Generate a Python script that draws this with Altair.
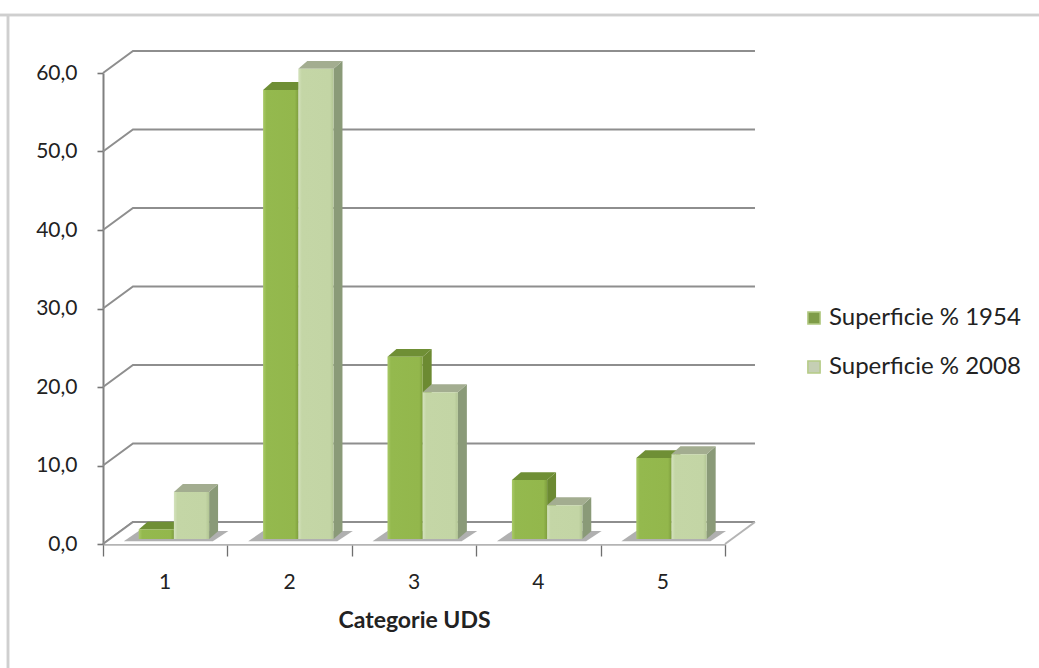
import altair as alt
import pandas as pd

# Share of surface per UDS category, in percent
categories = [1, 2, 3, 4, 5]
share_1954 = [1.2, 57.2, 23.2, 7.5, 10.3]
share_2008 = [6.0, 59.9, 18.7, 4.3, 10.8]
series_names = ["Superficie % 1954", "Superficie % 2008"]
y_ticks = [0, 10, 20, 30, 40, 50, 60]
x_title = "Categorie UDS"

# Perspective offsets, in axis units
WALL_DX, WALL_DY = 0.241, 2.8
BAR_DX, BAR_DY = 0.072, 1.0
BAR_WIDTH = 0.283
BAR_START = 0.287
BASE = 0.64

FONT = "Lato"
TEXT = "#222222"
GRID = "#8e8e8e"

x_scale = alt.Scale(domain=[0, 5], nice=False, zero=False, padding=0)
y_scale = alt.Scale(domain=[0, 60], nice=False, zero=False, padding=0)

front_rows, side_rows, top_rows, shadow_rows = [], [], [], []
for s, values in enumerate([share_1954, share_2008]):
    for c, v in zip(categories, values):
        left = c - 1 + BAR_START + s * BAR_WIDTH
        right = left + BAR_WIDTH
        top = v + BASE
        bar = f"{c}-{s}"
        front_rows.append(dict(series=series_names[s], s=s, x=left, x2=right, y=top, y2=BASE))
        side_rows += [
            dict(s=s, bar=bar, x=right, y=top, y2=BASE),
            dict(s=s, bar=bar, x=right + BAR_DX, y=top + BAR_DY, y2=BASE + BAR_DY),
        ]
        top_rows += [
            dict(s=s, bar=bar, y=top, x=left, x2=right),
            dict(s=s, bar=bar, y=top + BAR_DY, x=left + BAR_DX, x2=right + BAR_DX),
        ]
for c in categories:
    left = c - 1 + BAR_START
    right = left + 2 * BAR_WIDTH
    shadow_rows += [
        dict(cat=c, y=0.35, x=left - 0.12, x2=right + 0.03),
        dict(cat=c, y=1.65, x=left, x2=right + 0.155),
    ]

front = pd.DataFrame(front_rows)
side = pd.DataFrame(side_rows)
top_face = pd.DataFrame(top_rows)
shadow = pd.DataFrame(shadow_rows)

grid_rows = []
for v in y_ticks:
    grid_rows += [
        dict(level=v, x=0, y=v),
        dict(level=v, x=WALL_DX, y=v + WALL_DY),
        dict(level=v, x=5 + WALL_DX, y=v + WALL_DY),
    ]
grid = pd.DataFrame(grid_rows)

floor = pd.DataFrame([
    dict(y=0, x=0, x2=5),
    dict(y=WALL_DY, x=WALL_DX, x2=5 + WALL_DX),
])
floor_edge = pd.DataFrame([dict(x=5, y=0), dict(x=5 + WALL_DX, y=WALL_DY)])
labels = pd.DataFrame({"x": [c - 0.5 for c in categories], "label": [str(c) for c in categories]})


def shaded(stops):
    return alt.Gradient(
        gradient="linear", x1=0, x2=1, y1=0, y2=0,
        stops=[alt.GradientStop(offset=o, color=col) for o, col in stops],
    )


X = alt.X("x:Q", scale=x_scale, title=x_title)
Y = alt.Y("y:Q", scale=y_scale, title=None)

axes = alt.Chart(grid).mark_line(opacity=0).encode(
    x=alt.X(
        "x:Q", scale=x_scale, title=x_title,
        axis=alt.Axis(
            values=[0, 1, 2, 3, 4, 5], labels=False, grid=False,
            tickColor="#6f6f6f", tickSize=12, tickWidth=1.3,
            domainColor="#b4b4b4", domainWidth=2.5,
            titleFont=FONT, titleFontSize=23, titleFontWeight="bold",
            titleColor=TEXT, titlePadding=53,
        ),
    ),
    y=alt.Y(
        "y:Q", scale=y_scale, title=None,
        axis=alt.Axis(
            values=y_ticks, grid=False,
            labelExpr="replace(format(datum.value, '.1f'), '.', ',')",
            labelFont=FONT, labelFontSize=21, labelColor=TEXT, labelPadding=20,
            tickColor="#777777", tickSize=6, tickWidth=1.6,
            domainColor="#808080", domainWidth=2,
        ),
    ),
    detail="level:N",
)

wall_lines = alt.Chart(grid).mark_line(color=GRID, strokeWidth=2).encode(x=X, y=Y, detail="level:N")

floor_plate = alt.Chart(floor).mark_area(orient="horizontal", color="#ffffff").encode(
    y=Y, x=X, x2="x2:Q"
)
floor_side = alt.Chart(floor_edge).mark_line(color="#b4b4b4", strokeWidth=2).encode(x=X, y=Y)
back_floor = alt.Chart(grid[grid.level == 0]).mark_line(color=GRID, strokeWidth=2).encode(
    x=X, y=Y, detail="level:N"
)

shadows = alt.Chart(shadow).mark_area(orient="horizontal", color="#8f8f8f", opacity=0.7).encode(
    y=Y, x=X, x2="x2:Q", detail="cat:N"
)

# Each series is drawn back to front: side and top faces, then the front face
side_colors = ["#6c8a32", "#8a9a78"]
top_colors = ["#6f8f35", "#a3ad90"]
fronts = [
    shaded([(0, "#a9c968"), (0.1, "#94b94e"), (0.9, "#93b74c"), (1, "#7f9f3e")]),
    shaded([(0, "#d4e2bd"), (0.1, "#c4d6a6"), (0.9, "#c3d5a5"), (1, "#b2c594")]),
]

bar_layers = []
for s in [0, 1]:
    bar_layers.append(
        alt.Chart(side[side.s == s]).mark_area(color=side_colors[s]).encode(
            x=X, y=Y, y2="y2:Q", detail="bar:N"
        )
    )
    bar_layers.append(
        alt.Chart(top_face[top_face.s == s]).mark_area(orient="horizontal", color=top_colors[s]).encode(
            y=Y, x=X, x2="x2:Q", detail="bar:N"
        )
    )
    bar_layers.append(
        alt.Chart(front[front.s == s]).mark_bar(fill=fronts[s], stroke=None).encode(
            x=X, x2="x2:Q", y=Y, y2="y2:Q",
        )
    )

# A transparent layer on the same rows carries the legend
legend_key = alt.Chart(front).mark_bar(opacity=0).encode(
    x=X, x2="x:Q",
    y=alt.Y("y2:Q", scale=y_scale, title=None),
    color=alt.Color(
        "series:N",
        scale=alt.Scale(domain=series_names, range=["#7f9c48", "#c5cfb4"]),
        legend=alt.Legend(
            title=None, orient="none", legendX=699, legendY=233,
            symbolType="square", symbolSize=150, symbolOpacity=1,
            symbolStrokeColor="#b5cb86", symbolStrokeWidth=1.5,
            labelFont=FONT, labelFontSize=24, labelColor=TEXT, labelOffset=3,
            rowPadding=25, labelLimit=260,
        ),
    ),
)

tick_labels = alt.Chart(labels).mark_text(font=FONT, fontSize=21, color=TEXT).encode(
    x=X, y=alt.value(510), text="label:N"
)

# Thin frame lines along the top and left edges of the canvas
frame_top = alt.Chart(floor).mark_rule(color="#cfcfcf", strokeWidth=2.5).encode(
    x=alt.value(-103), x2=alt.value(936), y=alt.value(-58)
)
frame_left = alt.Chart(floor).mark_rule(color="#cfcfcf", strokeWidth=2.5).encode(
    x=alt.value(-95), y=alt.value(-59), y2=alt.value(595)
)

chart = alt.layer(
    axes, frame_top, frame_left, wall_lines, floor_plate, back_floor, floor_side,
    shadows, *bar_layers, legend_key, tick_labels,
).properties(
    width=622, height=471,
    padding={"left": 103, "top": 73, "right": 314, "bottom": 124},
    autosize=alt.AutoSizeParams(type="none"),
    background="#ffffff",
).configure_view(stroke=None)

chart.save("out.html", embed_options={"renderer": "svg", "actions": False})
